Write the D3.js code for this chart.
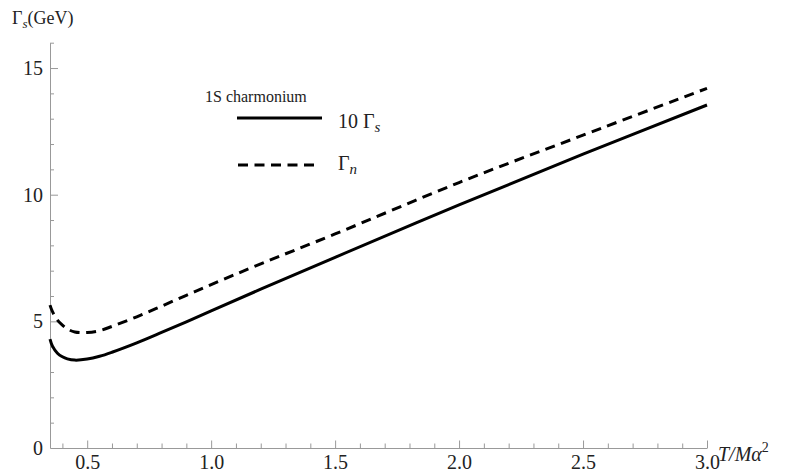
<!DOCTYPE html><meta charset="utf-8">
<style>
*{margin:0}
body{background:#fff}
svg text{font-family:"Liberation Serif","Times New Roman",serif !important;fill:#222}
.axis path,.axis line{stroke:#999;stroke-width:1px}
.curve{fill:none;stroke:#000;stroke-width:3px}
</style>
<svg width="785" height="473"></svg>
<script src="https://d3js.org/d3.v7.min.js"></script>
<script>
// values
const tVals   = [0.35,0.36,0.38,0.40,0.42,0.45,0.50,0.55,0.60,0.70,0.80,0.90,1.00,1.20,1.50,2.00,2.50,3.00];
const gammaS10= [4.30,4.02,3.74,3.60,3.52,3.47,3.51,3.62,3.78,4.15,4.56,4.98,5.41,6.27,7.53,9.60,11.60,13.54];
const gammaN  = [5.64,5.38,5.05,4.85,4.70,4.58,4.56,4.63,4.80,5.18,5.60,6.03,6.45,7.27,8.45,10.48,12.35,14.20];
const xMajor  = [0.5,1.0,1.5,2.0,2.5,3.0];
const yMajor  = [5,10,15];

const serif = '"Liberation Serif","Times New Roman",serif';
const svg = d3.select("svg"),
      x = d3.scaleLinear().domain([0.35,3.0]).range([50,707]),
      y = d3.scaleLinear().domain([0,16]).range([448,42.7]);

const xMinor = d3.range(4,31).map(d=>d/10).filter(d=>!xMajor.some(m=>Math.abs(m-d)<1e-9));
const yMinor = d3.range(1,17).filter(d=>!yMajor.includes(d));

// minor ticks
svg.append("g").attr("class","axis").attr("transform","translate(0,448)")
   .call(d3.axisBottom(x).tickValues(xMinor).tickSize(-4.5).tickFormat(""))
   .select(".domain").remove();
svg.append("g").attr("class","axis").attr("transform","translate(50,0)")
   .call(d3.axisLeft(y).tickValues(yMinor).tickSize(-4).tickFormat(""))
   .select(".domain").remove();

// major ticks + labels
svg.append("g").attr("class","axis").attr("transform","translate(0,448)")
   .call(d3.axisBottom(x).tickValues(xMajor).tickSize(-7.5).tickSizeOuter(0)
          .tickPadding(7).tickFormat(d3.format(".1f")));
const gy = svg.append("g").attr("class","axis").attr("transform","translate(50,0)")
   .call(d3.axisLeft(y).tickValues([0].concat(yMajor)).tickSize(-8).tickSizeOuter(0)
          .tickPadding(7).tickFormat(d3.format("d")));
gy.selectAll(".tick").filter(d=>d===0).select("line").remove();
svg.selectAll(".axis").attr("font-family",serif).attr("font-size",20);
svg.selectAll(".axis text").style("font-family",serif).style("font-size","20px").attr("fill","#222");

// curves
const line = d3.line().x((d,i)=>x(tVals[i])).y(d=>y(d)).curve(d3.curveCatmullRom.alpha(0.5));
svg.append("path").attr("class","curve").attr("d",line(gammaS10));
svg.append("path").attr("class","curve").attr("stroke-dasharray","10,6.5").attr("d",line(gammaN));

// axis labels
const yl = svg.append("text").attr("x",12).attr("y",24).style("font-size","18px");
yl.append("tspan").text("Γ");
yl.append("tspan").attr("font-style","italic").style("font-size","13px").attr("dy",4).text("s");
yl.append("tspan").attr("dy",-4).text("(GeV)");

const xl = svg.append("text").attr("x",718).attr("y",461).style("font-size","20px").attr("font-style","italic");
xl.append("tspan").text("T/Mα");
xl.append("tspan").style("font-size","14px").attr("dy",-9).attr("font-style","normal").text("2");

// legend
svg.append("text").attr("x",205).attr("y",102).style("font-size","16px").text("1S charmonium");
svg.append("line").attr("x1",237).attr("x2",322).attr("y1",118).attr("y2",118)
   .attr("stroke","#000").attr("stroke-width",3);
svg.append("line").attr("x1",238).attr("x2",318).attr("y1",165).attr("y2",165)
   .attr("stroke","#000").attr("stroke-width",3).attr("stroke-dasharray","10,6.5");
const l1 = svg.append("text").attr("x",338).attr("y",128).style("font-size","20px");
l1.append("tspan").text("10 Γ");
l1.append("tspan").attr("font-style","italic").style("font-size","15px").attr("dy",4).text("s");
const l2 = svg.append("text").attr("x",338).attr("y",170).style("font-size","20px");
l2.append("tspan").text("Γ");
l2.append("tspan").attr("font-style","italic").style("font-size","15px").attr("dy",4).text("n");
</script>
